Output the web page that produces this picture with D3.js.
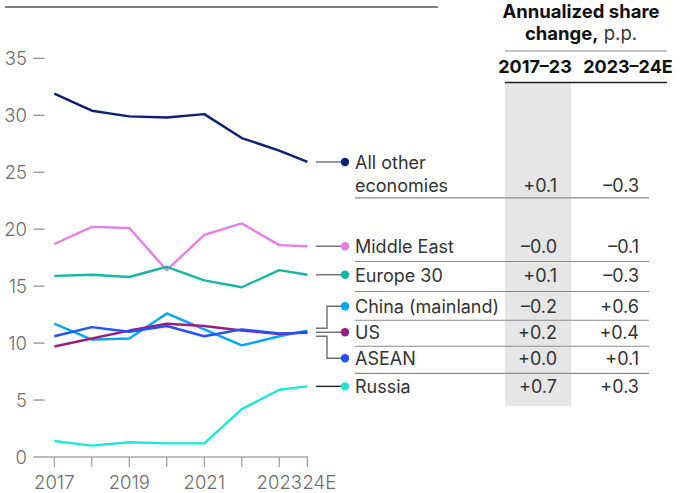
<!DOCTYPE html>
<html>
<head>
<meta charset="utf-8">
<script src="https://cdn.jsdelivr.net/npm/d3@7"></script>
<style>
  html, body { margin: 0; padding: 0; background: #fff; }
  svg { display: block; font-family: Inter, "Liberation Sans", Arial, sans-serif; }
</style>
</head>
<body>
<svg id="chart" width="681" height="493"></svg>
<script>
// Period labels along the x axis (2024 is an estimate)
const periods = ["2017", "2018", "2019", "2020", "2021", "2022", "2023", "2024E"];
const periodTickLabels = ["2017", "", "2019", "", "2021", "", "2023", "24E"];
const yTicks = [0, 5, 10, 15, 20, 25, 30, 35];

// Share of total, % per economy
const allOther   = [31.9, 30.4, 29.9, 29.8, 30.1, 28.0, 26.9, 25.9];
const middleEast = [18.7, 20.2, 20.1, 16.4, 19.5, 20.5, 18.6, 18.5];
const europe30   = [15.9, 16.0, 15.8, 16.7, 15.5, 14.9, 16.4, 16.0];
const china      = [11.7, 10.3, 10.4, 12.6, 11.2, 9.8, 10.6, 11.1];
const us         = [9.7, 10.4, 11.1, 11.7, 11.5, 11.1, 10.8, 10.95];
const asean      = [10.6, 11.4, 11.0, 11.5, 10.6, 11.2, 10.85, 10.9];
const russia     = [1.4, 1.0, 1.3, 1.2, 1.2, 4.2, 5.9, 6.2];

// Annualized share change, percentage points
const change2017to23 = ["+0.1", "–0.0", "+0.1", "–0.2", "+0.2", "+0.0", "+0.7"];
const change2023to24 = ["–0.3", "–0.1", "–0.3", "+0.6", "+0.4", "+0.1", "+0.3"];

const seriesNames = [["All other", "economies"], ["Middle East"], ["Europe 30"],
                     ["China (mainland)"], ["US"], ["ASEAN"], ["Russia"]];
const seriesValues = [allOther, middleEast, europe30, china, us, asean, russia];
const seriesColors = ["#0a1f78", "#e77ee6", "#17b5a6", "#00a7f5", "#981f7e", "#2251ff", "#1fe7d8"];

const svg = d3.select("#chart");

// The estimate year sits three quarters of a step after 2023
const periodPos = d3.scaleOrdinal(periods, [0, 1, 2, 3, 4, 5, 6, 6.75]);
const x = d3.scaleLinear().domain([0, 6.75]).range([54.3, 307.4]);
const y = d3.scaleLinear().domain([0, 35]).range([457, 58.3]);

// Top rule
svg.append("line").attr("x1", 5).attr("x2", 438).attr("y1", 7).attr("y2", 7)
  .attr("stroke", "#555").attr("stroke-width", 1.3);

// Y axis: labels with a short dash
const yAxis = svg.append("g");
yAxis.selectAll("text").data(yTicks).join("text")
  .attr("x", 27).attr("y", d => y(d)).attr("dy", "0.36em")
  .attr("text-anchor", "end").attr("fill", "#6b6b6b")
  .attr("font-size", 18.5).attr("font-weight", 300)
  .text(d => d);
yAxis.selectAll("line").data(yTicks).join("line")
  .attr("x1", 33.5).attr("x2", 44.5).attr("y1", d => y(d)).attr("y2", d => y(d))
  .attr("stroke", "#8a8a8a").attr("stroke-width", 1.2);

// X axis
const xAxis = svg.append("g");
xAxis.append("line").attr("x1", 44).attr("x2", x(periodPos("2024E")) + 0.6)
  .attr("y1", y(0)).attr("y2", y(0)).attr("stroke", "#aaa").attr("stroke-width", 1.6);
xAxis.selectAll("line.tick").data(periods).join("line").attr("class", "tick")
  .attr("x1", d => x(periodPos(d))).attr("x2", d => x(periodPos(d)))
  .attr("y1", y(0)).attr("y2", y(0) + 10)
  .attr("stroke", "#999").attr("stroke-width", 1.2);
xAxis.selectAll("text").data(periods).join("text")
  .attr("x", d => x(periodPos(d)))
  .attr("dx", d => d === "2024E" ? 12 : 0)
  .attr("y", 489)
  .attr("text-anchor", "middle").attr("fill", "#6b6b6b")
  .attr("font-size", 18.5).attr("font-weight", 300)
  .text((d, i) => periodTickLabels[i]);

// Series lines
const line = d3.line()
  .x((d, i) => x(periodPos(periods[i])))
  .y(d => y(d));
svg.append("g").selectAll("path").data(seriesValues).join("path")
  .attr("d", line)
  .attr("fill", "none")
  .attr("stroke", (d, i) => seriesColors[i])
  .attr("stroke-width", 2.4)
  .attr("stroke-linejoin", "round");

// Legend rows: aligned with each series' end, the tight middle group fanned out
const endY = seriesValues.map(v => y(v[v.length - 1]));
const rowY = endY.slice();
rowY[3] = endY[4] - 26;
rowY[5] = endY[4] + 26;

const stubX0 = 316, elbowX = 327, dotX = 345, labelX = 355;
const conn = svg.append("g").attr("fill", "none").attr("stroke-width", 1.4);
[0, 1, 2, 6].forEach(i => {
  conn.append("line").attr("x1", stubX0).attr("x2", dotX)
    .attr("y1", rowY[i]).attr("y2", rowY[i])
    .attr("stroke", i === 6 ? "#222" : "#6e6e6e");
});
// Bracket for China, US and ASEAN
const midY = endY[4];
conn.append("path").attr("stroke", "#6e6e6e")
  .attr("d", `M${stubX0},${midY - 4}H${elbowX}V${rowY[3]}H${dotX}`);
conn.append("path").attr("stroke", "#6e6e6e")
  .attr("d", `M${stubX0},${midY}H${dotX}`);
conn.append("path").attr("stroke", "#6e6e6e")
  .attr("d", `M${stubX0},${midY + 4}H${elbowX}V${rowY[5]}H${dotX}`);

svg.append("g").selectAll("circle").data(seriesColors).join("circle")
  .attr("cx", dotX).attr("cy", (d, i) => rowY[i]).attr("r", 4.2)
  .attr("fill", d => d);

// Table header
const colA = 535, colB = 628;
svg.append("rect").attr("x", 505).attr("y", 83).attr("width", 66).attr("height", 323)
  .attr("fill", "#e6e6e6");
svg.append("text").attr("x", 581).attr("y", 17.5).attr("text-anchor", "middle")
  .attr("font-size", 18.5).attr("font-weight", 700).attr("fill", "#111")
  .text("Annualized share");
const h2 = svg.append("text").attr("x", 581).attr("y", 40).attr("text-anchor", "middle")
  .attr("font-size", 18.5).attr("fill", "#111");
h2.append("tspan").attr("font-weight", 700).text("change,");
h2.append("tspan").attr("font-weight", 400).attr("fill", "#333").text(" p.p.");
svg.append("line").attr("x1", 505).attr("x2", 667).attr("y1", 51).attr("y2", 51)
  .attr("stroke", "#888").attr("stroke-width", 1.2);
svg.append("text").attr("x", colA).attr("y", 73).attr("text-anchor", "middle")
  .attr("font-size", 18).attr("font-weight", 700).attr("fill", "#111").text("2017–23");
svg.append("text").attr("x", colB).attr("y", 73).attr("text-anchor", "middle")
  .attr("font-size", 18).attr("font-weight", 700).attr("fill", "#111").text("2023–24E");
svg.append("line").attr("x1", 505).attr("x2", 667).attr("y1", 82.5).attr("y2", 82.5)
  .attr("stroke", "#222").attr("stroke-width", 1.6);

// Row labels and values
const rows = svg.append("g").attr("font-size", 18).attr("fill", "#333");
seriesNames.forEach((name, i) => {
  const t = rows.append("text").attr("x", labelX).attr("y", rowY[i]);
  name.forEach((part, k) => {
    t.append("tspan").attr("x", labelX).attr("dy", k === 0 ? "0.38em" : "1.3em").text(part);
  });
  const valY = i === 0 ? rowY[i] + 30 : rowY[i] + 6.8;
  rows.append("text").attr("x", 557).attr("y", valY).attr("text-anchor", "end").text(change2017to23[i]);
  rows.append("text").attr("x", 639).attr("y", valY).attr("text-anchor", "end").text(change2023to24[i]);
});

// Row separators
const sepY = [rowY[0] + 36];
for (let i = 1; i < rowY.length - 1; i++) sepY.push((rowY[i] + rowY[i + 1]) / 2 + 1);
svg.append("g").selectAll("line").data(sepY).join("line")
  .attr("x1", labelX).attr("x2", 649).attr("y1", d => d).attr("y2", d => d)
  .attr("stroke", "#8a8a8a").attr("stroke-width", 1.2);
</script>
</body>
</html>
